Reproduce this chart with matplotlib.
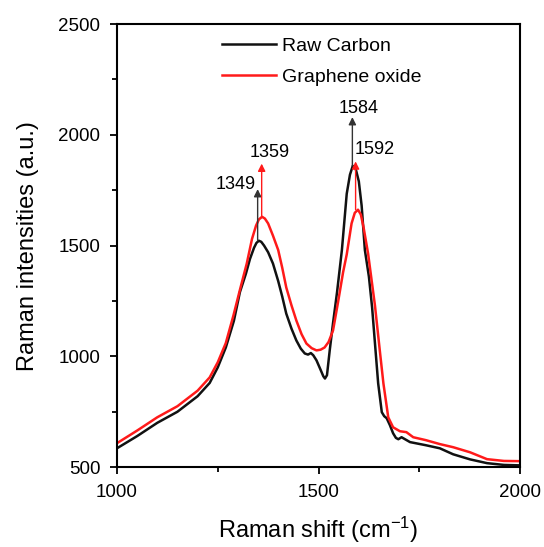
import matplotlib
matplotlib.use('Agg')
from matplotlib import pyplot as plt
from matplotlib.ticker import MultipleLocator


# Setting
plt.rcParams['font.family'] = ['Liberation Sans', 'DejaVu Sans']
plt.rcParams['mathtext.fontset'] = 'custom'
plt.rcParams['mathtext.rm'] = 'Liberation Sans'
plt.rcParams['mathtext.it'] = 'Liberation Sans:italic'


# Data
raw_shift = [1000, 1050, 1100, 1150, 1200, 1230, 1250, 1270, 1290, 1305, 1320, 1330,
             1340, 1346, 1352, 1358, 1365, 1375, 1387, 1400, 1410, 1420, 1433, 1445,
             1456, 1466, 1474, 1481, 1487, 1495, 1505, 1512, 1516, 1521, 1528, 1536,
             1546, 1558, 1570, 1578, 1585, 1592, 1600, 1607, 1615, 1625, 1633, 1640,
             1648, 1657, 1663, 1669, 1677, 1685, 1692, 1698, 1706, 1727, 1766, 1801,
             1834, 1876, 1918, 1960, 2000]
raw_int = [585, 640, 700, 750, 820, 880, 950, 1040, 1160, 1290, 1374, 1440,
           1490, 1512, 1522, 1517, 1500, 1470, 1419, 1340, 1270, 1193, 1125, 1072,
           1035, 1013, 1008, 1015, 1005, 982, 940, 910, 900, 915, 1030, 1150,
           1290, 1480, 1734, 1820, 1860, 1848, 1790, 1680, 1480, 1360, 1220, 1060,
           878, 748, 730, 721, 690, 653, 632, 626, 635, 613, 599, 585,
           558, 535, 518, 510, 508]

go_shift = [1000, 1050, 1100, 1150, 1200, 1230, 1250, 1270, 1289, 1305, 1322, 1335,
            1345, 1352, 1360, 1367, 1375, 1387, 1400, 1410, 1420, 1433, 1445, 1458,
            1470, 1483, 1495, 1505, 1515, 1525, 1536, 1548, 1561, 1570, 1582, 1590,
            1598, 1605, 1612, 1623, 1632, 1640, 1652, 1661, 1673, 1685, 1702, 1718,
            1735, 1766, 1801, 1834, 1876, 1918, 1960, 2000]
go_int = [608, 665, 725, 775, 845, 905, 973, 1060, 1185, 1300, 1419, 1530,
          1590, 1618, 1630, 1622, 1600, 1545, 1480, 1400, 1311, 1230, 1162, 1100,
          1058, 1037, 1027, 1030, 1040, 1065, 1117, 1240, 1380, 1460, 1600, 1648,
          1662, 1640, 1580, 1464, 1340, 1230, 1027, 878, 725, 680, 662, 658,
          635, 622, 604, 590, 567, 536, 528, 527]

series_names = ['Raw Carbon', 'Graphene oxide']
series_colors = ['#111111', '#ff1a1a']

# peak arrows: (label, position, base, tip)
peak_labels = ['1349', '1359', '1584', '1592']
peak_pos = [1349, 1359, 1584, 1592]
peak_base = [1522, 1630, 1860, 1662]
peak_tip = [1755, 1870, 2080, 1880]


# Plot
fig = plt.figure(figsize=(5.44, 5.47), dpi=100)
ax = fig.add_axes([0.215, 0.146, 0.741, 0.81])

ax.plot(raw_shift, raw_int, color=series_colors[0], lw=1.8, label=series_names[0])
ax.plot(go_shift, go_int, color=series_colors[1], lw=1.8, label=series_names[1])

arrow_colors = ['#333333', '#ff1a1a', '#333333', '#ff1a1a']
for pos, base, tip, col in zip(peak_pos, peak_base, peak_tip, arrow_colors):
    ax.annotate('', xy=(pos, tip), xytext=(pos, base),
                arrowprops=dict(arrowstyle='-|>', color=col, lw=1.0,
                                mutation_scale=11, shrinkA=0, shrinkB=0))

ax.text(1345, 1775, peak_labels[0], ha='right', va='center', fontsize=13)
ax.text(1380, 1920, peak_labels[1], ha='center', va='center', fontsize=13)
ax.text(1600, 2120, peak_labels[2], ha='center', va='center', fontsize=13)
ax.text(1590, 1932, peak_labels[3], ha='left', va='center', fontsize=13)

ax.set_xlim(1000, 2000)
ax.set_ylim(500, 2500)
ax.xaxis.set_major_locator(MultipleLocator(500))
ax.xaxis.set_minor_locator(MultipleLocator(250))
ax.yaxis.set_major_locator(MultipleLocator(500))
ax.yaxis.set_minor_locator(MultipleLocator(250))
ax.tick_params(which='major', direction='out', length=5, width=1.3, labelsize=13.5, pad=7)
ax.tick_params(which='minor', direction='out', length=3.5, width=1.3)
for sp in ax.spines.values():
    sp.set_linewidth(1.5)

ax.set_xlabel(r'Raman shift (cm$^{-1}$)', fontsize=17, labelpad=10)
ax.set_ylabel('Raman intensities (a.u.)', fontsize=17, labelpad=14)

ax.legend(loc='upper left', bbox_to_anchor=(0.26, 0.971), frameon=False,
          fontsize=14, handlelength=2.8, handletextpad=0.3, labelspacing=0.7,
          borderpad=0, borderaxespad=0)

plt.savefig('out.png')
plt.close()
